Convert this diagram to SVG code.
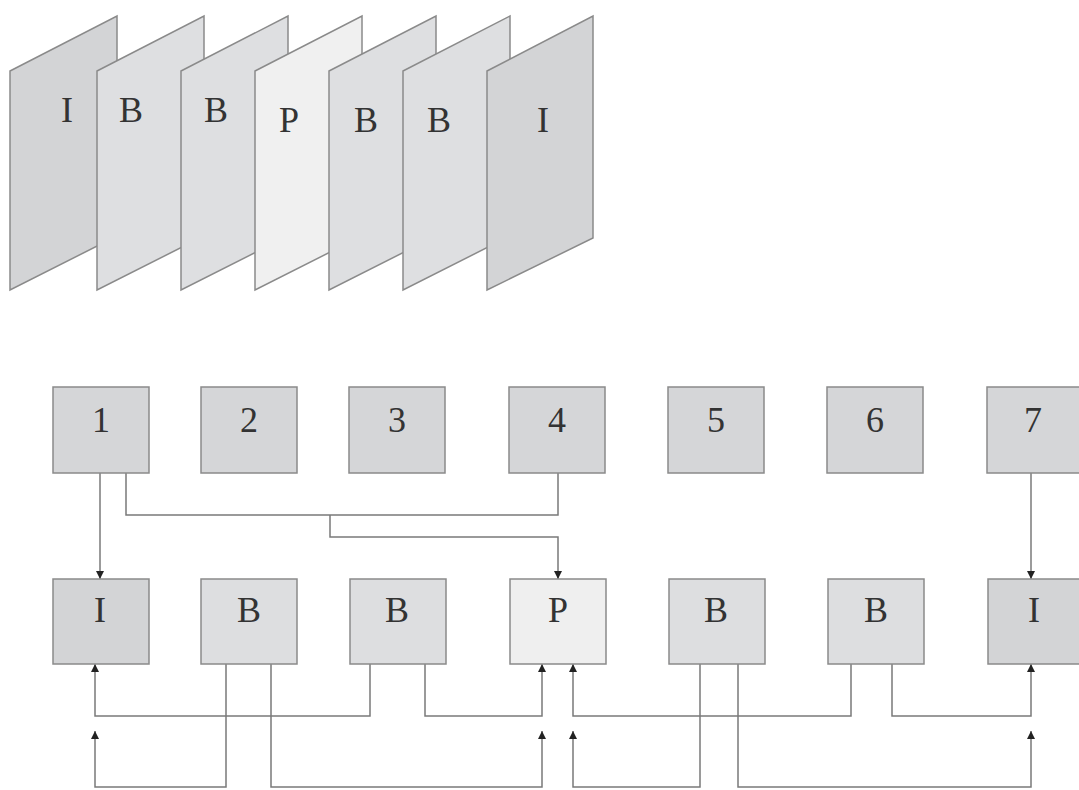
<svg xmlns="http://www.w3.org/2000/svg" width="1079" height="790" viewBox="0 0 1079 790">
<style>
.fr{stroke:#8a8a8a;stroke-width:1.5;stroke-linejoin:miter}
.fi{fill:#d3d4d6}.fb{fill:#dedfe1}.fp{fill:#f0f0f0}
.bx{stroke:#8a8a8a;stroke-width:1.5}
.bn{fill:#d5d6d8}.bi{fill:#d3d4d6}.bb{fill:#dddee0}.bp{fill:#efefef}
.t{font-family:"Liberation Serif","Times New Roman",serif;font-size:36px;fill:#333;text-anchor:middle}
.c{fill:none;stroke:#7a7a7a;stroke-width:1.5}
</style>
<defs>
<marker id="ah" viewBox="0 0 10 10" refX="10" refY="5" markerWidth="9" markerHeight="8" markerUnits="userSpaceOnUse" orient="auto">
<path d="M0,0 L10,5 L0,10 z" fill="#222"/>
</marker>
</defs>
<rect width="1079" height="790" fill="#fff"/>
<g id="frames">
<g id="frame1"><polygon class="fr fi" points="10,71 117,16 117,236 10,290"/><text class="t" x="67" y="122">I</text></g>
<g id="frame2"><polygon class="fr fb" points="97,71 204,16 204,236 97,290"/><text class="t" x="131" y="122">B</text></g>
<g id="frame3"><polygon class="fr fb" points="181,71 288,16 288,236 181,290"/><text class="t" x="216" y="122">B</text></g>
<g id="frame4"><polygon class="fr fp" points="255,71 362,16 362,236 255,290"/><text class="t" x="289" y="132">P</text></g>
<g id="frame5"><polygon class="fr fb" points="329,71 436,16 436,236 329,290"/><text class="t" x="366" y="132">B</text></g>
<g id="frame6"><polygon class="fr fb" points="403,71 510,16 510,236 403,290"/><text class="t" x="439" y="132">B</text></g>
<g id="frame7"><polygon class="fr fi" points="487,71 593,16 593,238 487,290"/><text class="t" x="543" y="132">I</text></g>
</g>
<g id="connectors">
<path class="c" d="M100,473 V579" marker-end="url(#ah)"/>
<path class="c" d="M126,473 V515 H558 V473"/>
<path class="c" d="M330,515 V537 H558 V579" marker-end="url(#ah)"/>
<path class="c" d="M1031,473 V579" marker-end="url(#ah)"/>
<path class="c" d="M370,664 V716 H95 V664" marker-end="url(#ah)"/>
<path class="c" d="M226,664 V787 H95 V731" marker-end="url(#ah)"/>
<path class="c" d="M425,664 V716 H542 V664" marker-end="url(#ah)"/>
<path class="c" d="M271,664 V787 H542 V731" marker-end="url(#ah)"/>
<path class="c" d="M851,664 V716 H573 V664" marker-end="url(#ah)"/>
<path class="c" d="M700,664 V787 H573 V731" marker-end="url(#ah)"/>
<path class="c" d="M892,664 V716 H1031 V664" marker-end="url(#ah)"/>
<path class="c" d="M738,664 V787 H1031 V731" marker-end="url(#ah)"/>
</g>
<g id="n1"><rect class="bx bn" x="53" y="387" width="96" height="86"/><text class="t" x="101" y="432">1</text></g>
<g id="n2"><rect class="bx bn" x="201" y="387" width="96" height="86"/><text class="t" x="249" y="432">2</text></g>
<g id="n3"><rect class="bx bn" x="349" y="387" width="96" height="86"/><text class="t" x="397" y="432">3</text></g>
<g id="n4"><rect class="bx bn" x="509" y="387" width="96" height="86"/><text class="t" x="557" y="432">4</text></g>
<g id="n5"><rect class="bx bn" x="668" y="387" width="96" height="86"/><text class="t" x="716" y="432">5</text></g>
<g id="n6"><rect class="bx bn" x="827" y="387" width="96" height="86"/><text class="t" x="875" y="432">6</text></g>
<g id="n7"><rect class="bx bn" x="987" y="387" width="96" height="86"/><text class="t" x="1033" y="432">7</text></g>
<g id="m1"><rect class="bx bi" x="53" y="579" width="96" height="85"/><text class="t" x="100" y="622">I</text></g>
<g id="m2"><rect class="bx bb" x="201" y="579" width="96" height="85"/><text class="t" x="249" y="622">B</text></g>
<g id="m3"><rect class="bx bb" x="350" y="579" width="96" height="85"/><text class="t" x="397" y="622">B</text></g>
<g id="m4"><rect class="bx bp" x="510" y="579" width="96" height="85"/><text class="t" x="558" y="622">P</text></g>
<g id="m5"><rect class="bx bb" x="669" y="579" width="96" height="85"/><text class="t" x="716" y="622">B</text></g>
<g id="m6"><rect class="bx bb" x="828" y="579" width="96" height="85"/><text class="t" x="876" y="622">B</text></g>
<g id="m7"><rect class="bx bi" x="988" y="579" width="96" height="85"/><text class="t" x="1034" y="622">I</text></g>
</svg>
